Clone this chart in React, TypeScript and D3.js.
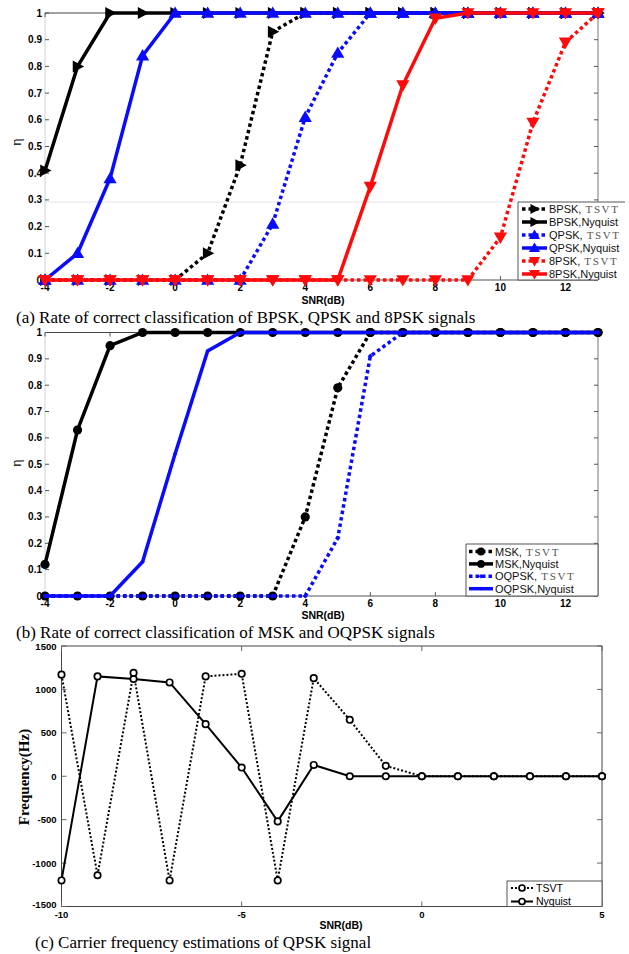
import React, { useEffect } from 'react';
import * as d3 from 'd3';

// ---- data ----
const snrRate = [-4, -3, -2, -1, 0, 1, 2, 3, 4, 5, 6, 7, 8, 9, 10, 11, 12, 13];

const bpskTsvt = [0, 0, 0, 0, 0, 0.1, 0.43, 0.93, 1, 1, 1, 1, 1, 1, 1, 1, 1, 1];
const bpskNyq = [0.41, 0.8, 1, 1, 1, 1, 1, 1, 1, 1, 1, 1, 1, 1, 1, 1, 1, 1];
const qpskTsvt = [0, 0, 0, 0, 0, 0, 0, 0.21, 0.61, 0.85, 1, 1, 1, 1, 1, 1, 1, 1];
const qpskNyq = [0, 0.1, 0.38, 0.84, 1, 1, 1, 1, 1, 1, 1, 1, 1, 1, 1, 1, 1, 1];
const psk8Tsvt = [0, 0, 0, 0, 0, 0, 0, 0, 0, 0, 0, 0, 0, 0, 0.16, 0.59, 0.89, 1];
const psk8Nyq = [0, 0, 0, 0, 0, 0, 0, 0, 0, 0, 0.35, 0.73, 0.98, 1, 1, 1, 1, 1];

const mskTsvt = [0, 0, 0, 0, 0, 0, 0, 0, 0.3, 0.79, 1, 1, 1, 1, 1, 1, 1, 1];
const mskNyq = [0.12, 0.63, 0.95, 1, 1, 1, 1, 1, 1, 1, 1, 1, 1, 1, 1, 1, 1, 1];
const oqpskTsvt = [0, 0, 0, 0, 0, 0, 0, 0, 0, 0.22, 0.91, 1, 1, 1, 1, 1, 1, 1];
const oqpskNyq = [0, 0, 0, 0.13, 0.54, 0.93, 1, 1, 1, 1, 1, 1, 1, 1, 1, 1, 1, 1];

const snrFreq = [-10, -9, -8, -7, -6, -5, -4, -3, -2, -1, 0, 1, 2, 3, 4, 5];
const freqTsvt = [1170, -1140, 1190, -1200, 1150, 1180, -1200, 1130, 650, 120, 0, 0, 0, 0, 0, 0];
const freqNyq = [-1200, 1150, 1120, 1080, 600, 100, -520, 130, 0, 0, 0, 0, 0, 0, 0, 0];

const rateTicks = [0, 0.1, 0.2, 0.3, 0.4, 0.5, 0.6, 0.7, 0.8, 0.9, 1];
const rateTickLabels = ['0', '0.1', '0.2', '0.3', '0.4', '0.5', '0.6', '0.7', '0.8', '0.9', '1'];
const snrRateTicks = [-4, -2, 0, 2, 4, 6, 8, 10, 12];
const freqTicks = [-1500, -1000, -500, 0, 500, 1000, 1500];
const snrFreqTicks = [-10, -5, 0, 5];

const SANS = '"Liberation Sans", Arial, sans-serif';
const SERIF = '"Liberation Serif", "Times New Roman", serif';
const BLUE = '#0a0aff';
const RED = '#ff0a0a';

function Marker({ kind, x, y, color, s }) {
  if (kind === 'right')
    return <polygon points={`${x - s * 0.8},${y - s} ${x + s * 1.1},${y} ${x - s * 0.8},${y + s}`} fill={color} />;
  if (kind === 'up')
    return <polygon points={`${x - s * 1.1},${y + s * 0.8} ${x + s * 1.1},${y + s * 0.8} ${x},${y - s * 1.1}`} fill={color} />;
  if (kind === 'down')
    return <polygon points={`${x - s * 1.1},${y - s * 0.8} ${x + s * 1.1},${y - s * 0.8} ${x},${y + s * 1.1}`} fill={color} />;
  if (kind === 'diamond')
    return <polygon points={`${x - s},${y} ${x},${y - s} ${x + s},${y} ${x},${y + s}`} fill={color} />;
  if (kind === 'ring')
    return <circle cx={x} cy={y} r={s} fill="white" stroke={color} strokeWidth={1.7} />;
  return <circle cx={x} cy={y} r={s} fill={color} />;
}

const panelA = [
  { values: bpskTsvt, color: '#000', dashed: true, marker: 'right', s: 6, name: 'BPSK,', tag: ' TSVT' },
  { values: bpskNyq, color: '#000', dashed: false, marker: 'right', s: 6, name: 'BPSK,Nyquist', tag: '' },
  { values: qpskTsvt, color: BLUE, dashed: true, marker: 'up', s: 6, name: 'QPSK,', tag: ' TSVT' },
  { values: qpskNyq, color: BLUE, dashed: false, marker: 'up', s: 6, name: 'QPSK,Nyquist', tag: '' },
  { values: psk8Tsvt, color: RED, dashed: true, marker: 'down', s: 6, name: '8PSK,', tag: ' TSVT' },
  { values: psk8Nyq, color: RED, dashed: false, marker: 'down', s: 6, name: '8PSK,Nyquist', tag: '' },
];

const panelB = [
  { values: mskTsvt, color: '#000', dashed: true, marker: 'dot', s: 4.6, name: 'MSK,', tag: ' TSVT' },
  { values: mskNyq, color: '#000', dashed: false, marker: 'dot', s: 4.6, name: 'MSK,Nyquist', tag: '' },
  { values: oqpskTsvt, color: BLUE, dashed: true, marker: 'diamond', s: 2.6, name: 'OQPSK,', tag: ' TSVT' },
  { values: oqpskNyq, color: BLUE, dashed: false, marker: 'diamond', s: 2.2, name: 'OQPSK,Nyquist', tag: '' },
];

const x = d3.scaleLinear().domain([-4, 13]).range([45, 598]);

function RatePanel({ series, yRange, legend, etaY, snrY, grid }) {
  const y = d3.scaleLinear().domain([0, 1]).range(yRange);
  const [x0, x1] = x.range();
  const [yb, yt] = yRange;
  const line = d3
    .line<number>()
    .x((d, i) => x(snrRate[i]))
    .y((d) => y(d));
  return (
    <g>
      {grid !== undefined && <line x1={x0} x2={legend.x} y1={grid} y2={grid} stroke="#e4e4e4" />}
      <line x1={x0} x2={x0} y1={yt} y2={yb} stroke="#d0d0d0" />
      <line x1={x0} x2={x1} y1={yt} y2={yt} stroke="#444" />
      <line x1={x1} x2={x1} y1={yt} y2={yb} stroke="#777" />
      <line x1={x0} x2={x1} y1={yb} y2={yb} stroke="#555" />
      {rateTicks.map((t, i) => (
        <g key={'yt' + i}>
          <line x1={x0} x2={x0 + 4} y1={y(t)} y2={y(t)} stroke="#555" />
          <line x1={x1 - 4} x2={x1} y1={y(t)} y2={y(t)} stroke="#555" />
          <text x={x0 - 3} y={y(t) + 3.5} textAnchor="end" fontFamily={SANS} fontWeight="bold" fontSize={10}>
            {rateTickLabels[i]}
          </text>
        </g>
      ))}
      {snrRateTicks.map((t) => (
        <g key={'xt' + t}>
          <line x1={x(t)} x2={x(t)} y1={yb} y2={yb - 4} stroke="#555" />
          <line x1={x(t)} x2={x(t)} y1={yt} y2={yt + 4} stroke="#555" />
          <text x={x(t)} y={yb + 11} textAnchor="middle" fontFamily={SANS} fontWeight="bold" fontSize={10}>
            {t}
          </text>
        </g>
      ))}
      <text x={323} y={snrY} textAnchor="middle" fontFamily={SANS} fontWeight="bold" fontSize={10.5}>SNR(dB)</text>
      <text transform={`translate(21,${etaY}) rotate(-90)`} textAnchor="middle" fontFamily={SERIF} fontSize={14}>η</text>
      {series.map((sr, k) => (
        <g key={'s' + k}>
          <path d={line(sr.values) || ''} fill="none" stroke={sr.color} strokeWidth={3.5}
            strokeDasharray={sr.dashed ? '3.5,3' : undefined} />
          {sr.values.map((v, i) => (
            <Marker key={i} kind={sr.marker} x={x(snrRate[i])} y={y(v)} color={sr.color} s={sr.s} />
          ))}
        </g>
      ))}
      <rect x={legend.x} y={legend.y} width={legend.x2 - legend.x} height={yb - legend.y} fill="white" stroke="none" />
      <line x1={legend.x} x2={legend.x2} y1={legend.y} y2={legend.y} stroke="#555" />
      <line x1={legend.x} x2={legend.x} y1={legend.y} y2={yb} stroke="#555" />
      {legend.x2 <= x1 && <line x1={x1} x2={x1} y1={legend.y} y2={yb} stroke="#555" />}
      <line x1={legend.x} x2={x1} y1={yb} y2={yb} stroke="#555" />
      {series.map((sr, k) => {
        const ly = legend.y + legend.first + k * legend.step;
        const cx = (legend.sx0 + legend.sx1) / 2;
        return (
          <g key={'l' + k}>
            <line x1={legend.sx0} x2={legend.sx1} y1={ly} y2={ly} stroke={sr.color} strokeWidth={3.5}
              strokeDasharray={sr.dashed ? '3.5,3' : undefined} />
            <Marker kind={sr.marker} x={cx} y={ly} color={sr.color} s={sr.s * 0.85} />
            <text x={legend.sx1 + 2} y={ly + 4} fontFamily={SANS} fontSize={11} fill="#111">
              {sr.name}
              {sr.tag && (
                <tspan fontFamily={SERIF} letterSpacing={1.6} fill="#555">{sr.tag}</tspan>
              )}
            </text>
          </g>
        );
      })}
    </g>
  );
}

function FreqPanel() {
  const fx = d3.scaleLinear().domain([-10, 5]).range([61.5, 602]);
  const fy = d3.scaleLinear().domain([-1500, 1500]).range([906.5, 646]);
  const [x0, x1] = fx.range();
  const [yb, yt] = fy.range();
  const line = d3.line<number>().x((d, i) => fx(snrFreq[i])).y((d) => fy(d));
  const series = [
    { values: freqTsvt, dashed: true, name: 'TSVT' },
    { values: freqNyq, dashed: false, name: 'Nyquist' },
  ];
  return (
    <g>
      <rect x={x0} y={yt} width={x1 - x0} height={yb - yt} fill="none" stroke="#444" />
      {freqTicks.map((t) => (
        <g key={'fy' + t}>
          <line x1={x0} x2={x0 + 5} y1={fy(t)} y2={fy(t)} stroke="#666" />
          <line x1={x1 - 5} x2={x1} y1={fy(t)} y2={fy(t)} stroke="#666" />
          <text x={x0 - 5} y={t === -1500 ? fy(t) + 1 : fy(t) + 3.5} textAnchor="end" fontFamily={SANS}
            fontWeight="bold" fontSize={9.5}>{t}</text>
        </g>
      ))}
      {snrFreqTicks.map((t) => (
        <g key={'fx' + t}>
          <line x1={fx(t)} x2={fx(t)} y1={yb} y2={yb - 5} stroke="#666" />
          <line x1={fx(t)} x2={fx(t)} y1={yt} y2={yt + 5} stroke="#666" />
          <text x={fx(t)} y={yb + 11} textAnchor="middle" fontFamily={SANS} fontWeight="bold" fontSize={9.5}>{t}</text>
        </g>
      ))}
      <text x={341} y={929} textAnchor="middle" fontFamily={SANS} fontWeight="bold" fontSize={10.5}>SNR(dB)</text>
      <text transform={`translate(29,777) rotate(-90)`} textAnchor="middle" fontFamily={SERIF} fontWeight="bold"
        fontSize={15}>Frequency(Hz)</text>
      {series.map((sr, k) => (
        <g key={'fs' + k}>
          <path d={line(sr.values) || ''} fill="none" stroke="#000" strokeWidth={2}
            strokeDasharray={sr.dashed ? '2,2' : undefined} />
          {sr.values.map((v, i) => (
            <Marker key={i} kind="ring" x={fx(snrFreq[i])} y={fy(v)} color="#000" s={3.2} />
          ))}
        </g>
      ))}
      <rect x={507} y={881} width={x1 - 507} height={yb - 881} fill="white" stroke="#555" />
      {series.map((sr, k) => {
        const ly = 888 + k * 13.5;
        return (
          <g key={'fl' + k}>
            <line x1={511} x2={533} y1={ly} y2={ly} stroke="#000" strokeWidth={2}
              strokeDasharray={sr.dashed ? '2,2' : undefined} />
            <Marker kind="ring" x={522} y={ly} color="#000" s={3} />
            <text x={536} y={ly + 3.5} fontFamily={SANS} fontSize={10.5}>{sr.name}</text>
          </g>
        );
      })}
    </g>
  );
}

export default function App() {
  useEffect(() => {
    document.body.style.margin = '0';
  }, []);
  return (
    <svg width={629} height={954} viewBox="0 0 629 954" style={{ display: 'block', background: 'white' }}>
      <RatePanel series={panelA} yRange={[280, 13]} etaY={142} snrY={304} grid={202}
        legend={{ x: 518, x2: 625, y: 202, first: 7, step: 13, sx0: 522, sx1: 547 }} />
      <text x={16} y={323} fontFamily={SERIF} fontSize={17}>
        (a) Rate of correct classification of BPSK, QPSK and 8PSK signals
      </text>
      <RatePanel series={panelB} yRange={[596, 332.5]} etaY={463} snrY={619}
        legend={{ x: 466, x2: 598, y: 544, first: 7.5, step: 12.4, sx0: 469, sx1: 493 }} />
      <text x={16} y={638} fontFamily={SERIF} fontSize={17}>
        (b) Rate of correct classification of MSK and OQPSK signals
      </text>
      <FreqPanel />
      <text x={35} y={948} fontFamily={SERIF} fontSize={17}>
        (c) Carrier frequency estimations of QPSK signal
      </text>
    </svg>
  );
}
